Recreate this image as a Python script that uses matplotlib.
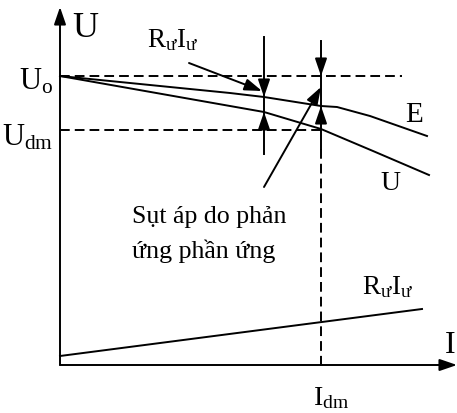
import numpy as np
import matplotlib.pyplot as plt

plt.rcParams['font.family'] = ['Liberation Serif', 'DejaVu Serif']
plt.rcParams['mathtext.fontset'] = 'custom'
plt.rcParams['mathtext.rm'] = 'Liberation Serif'
plt.rcParams['mathtext.it'] = 'Liberation Serif'

# characteristic points (I, U)
U0 = 289
Udm = 235
Idm = 261

E_I = [0, 170, 204, 261, 277, 310, 367]
E_U = [289, 272, 268, 259, 258, 249, 229]

U_I = [0, 170, 204, 261, 313, 369]
U_U = [289, 259, 253, 236, 214, 190]

RI_I = [0, 362]
RI_U = [9, 56]

# the R_u*I_u gap marker position
I_mark = 204

lw = 1.4
dash = (0, (5.0, 2.6))
head = dict(arrowstyle='-|>,head_length=1.05,head_width=0.36', mutation_scale=10,
            color='black', lw=lw, shrinkA=0, shrinkB=0)

fig = plt.figure(figsize=(4.57, 4.14), dpi=100)
ax = fig.add_axes([0, 0, 1, 1])
ax.set_xlim(-60, 397)
ax.set_ylim(-48, 366)
ax.axis('off')

# axes with arrows
ax.annotate('', xy=(0, 358), xytext=(0, 0), arrowprops=head)
ax.annotate('', xy=(397, 0), xytext=(0, 0), arrowprops=head)

# dashed guides
ax.plot([0, 342], [U0, U0], color='black', lw=lw, ls=dash)
ax.plot([0, Idm], [Udm, Udm], color='black', lw=lw, ls=dash)
ax.plot([Idm, Idm], [216, -4], color='black', lw=lw, ls=dash)

# curves
ax.plot(E_I, E_U, color='black', lw=lw)
ax.plot(U_I, U_U, color='black', lw=lw)
ax.plot(RI_I, RI_U, color='black', lw=lw)

# gap markers
E_at_mark = np.interp(I_mark, E_I, E_U)
U_at_mark = np.interp(I_mark, U_I, U_U)
ax.plot([I_mark, I_mark], [328, 211], color='black', lw=lw)
ax.annotate('', xy=(I_mark, E_at_mark), xytext=(I_mark, E_at_mark + 16), arrowprops=head)
ax.annotate('', xy=(I_mark, U_at_mark), xytext=(I_mark, U_at_mark - 16), arrowprops=head)

E_at_dm = np.interp(Idm, E_I, E_U)
ax.plot([Idm, Idm], [324, 216], color='black', lw=lw)
ax.annotate('', xy=(Idm, U0), xytext=(Idm, U0 + 16), arrowprops=head)
ax.annotate('', xy=(Idm, E_at_dm), xytext=(Idm, E_at_dm - 16), arrowprops=head)

# pointer arrows from the labels
ax.annotate('', xy=(I_mark - 2, E_at_mark + 6), xytext=(129, 302), arrowprops=head)
ax.annotate('', xy=(Idm, 278), xytext=(204, 178), arrowprops=head)

# labels
ax.text(12, 329, 'U', fontsize=26, va='baseline')
ax.text(385, 13, 'I', fontsize=23, va='baseline')
ax.text(-7, 276, r'$\mathrm{U_o}$', fontsize=22, ha='right', va='baseline')
ax.text(-7, 221, r'$\mathrm{U_{dm}}$', fontsize=22, ha='right', va='baseline')
ax.text(345, 244, 'E', fontsize=21, va='baseline')
ax.text(320, 176, 'U', fontsize=20, va='baseline')
ax.text(87, 319, r'$\mathrm{R_ưI_ư}$', fontsize=19.5, va='baseline')
ax.text(302, 72, r'$\mathrm{R_ưI_ư}$', fontsize=19.5, va='baseline')
ax.text(253, -39, r'$\mathrm{I_{dm}}$', fontsize=20, va='baseline')
ax.text(72, 143, 'Sụt áp do phản', fontsize=18.6, va='baseline')
ax.text(72, 108, 'ứng phần ứng', fontsize=18.6, va='baseline')

fig.savefig('out.png', dpi=100)
